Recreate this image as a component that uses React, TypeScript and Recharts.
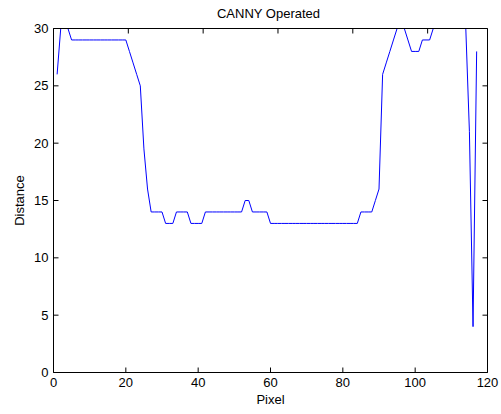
import { LineChart, Line, XAxis, YAxis, Label } from 'recharts';

// pixel index along the scan line
const PIXELS = [
  1, 2, 3, 4, 5, 6, 7, 8, 9, 10, 11, 12, 13, 14, 15, 16, 17, 18, 19, 20,
  21, 22, 23, 24, 25, 26, 27, 28, 29, 30, 31, 32, 33, 34, 35, 36, 37, 38, 39, 40,
  41, 42, 43, 44, 45, 46, 47, 48, 49, 50, 51, 52, 53, 54, 55, 56, 57, 58, 59, 60,
  61, 62, 63, 64, 65, 66, 67, 68, 69, 70, 71, 72, 73, 74, 75, 76, 77, 78, 79, 80,
  81, 82, 83, 84, 85, 86, 87, 88, 89, 90, 91, 92, 93, 94, 95, 96, 97, 98, 99, 100,
  101, 102, 103, 104, 105, 106, 107, 108, 109, 110, 111, 112, 113, 114, 115, 116, 117,
];

// distance (values above 30 are clipped in the original)
const DISTANCES = [
  26, 30, 31, 30, 29, 29, 29, 29, 29, 29, 29, 29, 29, 29, 29, 29, 29, 29, 29, 29,
  28, 27, 26, 25, 19.5, 16, 14, 14, 14, 14, 13, 13, 13, 14, 14, 14, 14, 13, 13, 13,
  13, 14, 14, 14, 14, 14, 14, 14, 14, 14, 14, 14, 15, 15, 14, 14, 14, 14, 14, 13,
  13, 13, 13, 13, 13, 13, 13, 13, 13, 13, 13, 13, 13, 13, 13, 13, 13, 13, 13, 13,
  13, 13, 13, 13, 14, 14, 14, 14, 15, 16, 26, 27, 28, 29, 30, 31, 30, 29, 28, 28,
  28, 29, 29, 29, 30, 31, 31, 31, 31, 31, 31, 31, 31, 30, 21, 4, 28,
];

const X_TICKS = [0, 20, 40, 60, 80, 100, 120];
const Y_TICKS = [0, 5, 10, 15, 20, 25, 30];

const data = PIXELS.map((p, i) => ({ pixel: p, distance: DISTANCES[i] }));

const font = '"Liberation Sans", Arial, Helvetica, sans-serif';
const tickStyle = { fontSize: 13, fill: '#000', fontFamily: font };
const labelStyle = { fontSize: 13, fill: '#000', fontFamily: font };

// top/right frame axes: tick marks only, no labels
const NoLabel = () => <g />;

export default function App() {
  return (
    <div style={{ position: 'absolute', left: 0, top: 0, width: 501, height: 414, background: '#fff' }}>
      <LineChart width={501} height={414} data={data} margin={{ top: 0, right: 0, bottom: 0, left: 0 }}>
        <XAxis
          dataKey="pixel"
          type="number"
          domain={[0, 120]}
          ticks={X_TICKS}
          allowDataOverflow
          height={41.5}
          stroke="#000"
          tickSize={-5}
          tickMargin={10}
          tick={tickStyle}
          interval={0}
        >
          <Label value="Pixel" position="insideBottom" offset={10} style={labelStyle} />
        </XAxis>
        <XAxis
          xAxisId="top"
          orientation="top"
          type="number"
          domain={[0, 120]}
          ticks={X_TICKS}
          allowDataOverflow
          height={28.5}
          stroke="#000"
          tickSize={-5}
          tick={NoLabel}
          interval={0}
        >
          <Label value="CANNY Operated" position="insideTop" offset={9} dx={-2} style={labelStyle} />
        </XAxis>
        <YAxis
          type="number"
          domain={[0, 30]}
          ticks={Y_TICKS}
          allowDataOverflow
          width={53.5}
          stroke="#000"
          tickSize={-5}
          tickMargin={10}
          tick={tickStyle}
          interval={0}
        >
          <Label
            value="Distance"
            angle={-90}
            position="insideLeft"
            offset={19.5}
            style={{ ...labelStyle, textAnchor: 'middle' }}
          />
        </YAxis>
        <YAxis
          yAxisId="right"
          orientation="right"
          type="number"
          domain={[0, 30]}
          ticks={Y_TICKS}
          allowDataOverflow
          width={13.5}
          stroke="#000"
          tickSize={-5}
          tick={NoLabel}
          interval={0}
        />
        <Line
          type="linear"
          dataKey="distance"
          stroke="#0000ff"
          strokeWidth={1}
          dot={false}
          activeDot={false}
          isAnimationActive={false}
        />
      </LineChart>
    </div>
  );
}
